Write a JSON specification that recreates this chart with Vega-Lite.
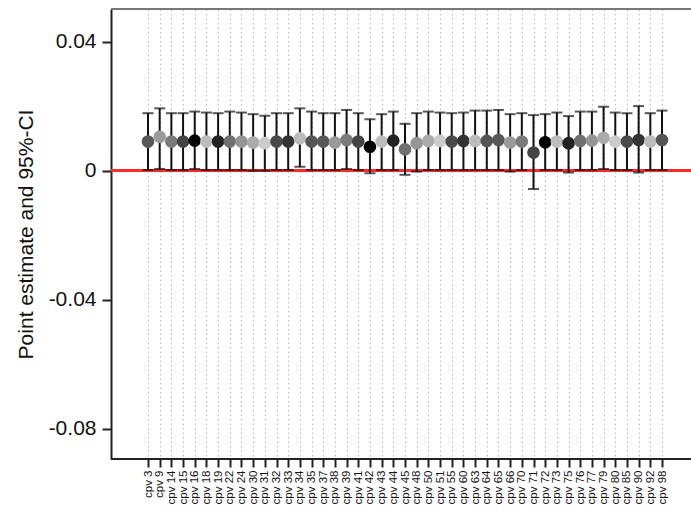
{
  "$schema": "https://vega.github.io/schema/vega-lite/v6.json",
  "autosize": "none",
  "width": 580,
  "height": 450,
  "padding": {"left": 111, "top": 9, "right": 0, "bottom": 57},
  "background": "white",
  "config": {
    "view": {"stroke": null},
    "font": "Liberation Sans",
    "axis": {"labelFont": "Liberation Sans", "titleFont": "Liberation Sans", "labelColor": "#111", "titleColor": "#111", "titleFontWeight": "normal"}
  },
  "data": {
    "values": [
      {"cpv": "cpv 3", "est": 0.0090, "lo": 0.0002, "hi": 0.0178, "grp": "g1"},
      {"cpv": "cpv 9", "est": 0.0105, "lo": 0.0005, "hi": 0.0193, "grp": "g2"},
      {"cpv": "cpv 14", "est": 0.0090, "lo": 0.0002, "hi": 0.0178, "grp": "g3"},
      {"cpv": "cpv 15", "est": 0.0090, "lo": 0.0002, "hi": 0.0178, "grp": "g4"},
      {"cpv": "cpv 16", "est": 0.0093, "lo": 0.0005, "hi": 0.0183, "grp": "g5"},
      {"cpv": "cpv 18", "est": 0.0090, "lo": 0.0002, "hi": 0.0180, "grp": "g6"},
      {"cpv": "cpv 19", "est": 0.0090, "lo": 0.0002, "hi": 0.0178, "grp": "g7"},
      {"cpv": "cpv 22", "est": 0.0090, "lo": 0.0002, "hi": 0.0183, "grp": "g8"},
      {"cpv": "cpv 24", "est": 0.0090, "lo": 0.0002, "hi": 0.0180, "grp": "g9"},
      {"cpv": "cpv 30", "est": 0.0087, "lo": 0.0000, "hi": 0.0175, "grp": "g10"},
      {"cpv": "cpv 31", "est": 0.0085, "lo": 0.0000, "hi": 0.0170, "grp": "g11"},
      {"cpv": "cpv 32", "est": 0.0090, "lo": 0.0002, "hi": 0.0178, "grp": "g12"},
      {"cpv": "cpv 33", "est": 0.0090, "lo": 0.0002, "hi": 0.0178, "grp": "g13"},
      {"cpv": "cpv 34", "est": 0.0100, "lo": 0.0012, "hi": 0.0193, "grp": "g14"},
      {"cpv": "cpv 35", "est": 0.0090, "lo": 0.0002, "hi": 0.0183, "grp": "g15"},
      {"cpv": "cpv 37", "est": 0.0090, "lo": 0.0002, "hi": 0.0178, "grp": "g1"},
      {"cpv": "cpv 38", "est": 0.0087, "lo": 0.0002, "hi": 0.0178, "grp": "g2"},
      {"cpv": "cpv 39", "est": 0.0095, "lo": 0.0005, "hi": 0.0188, "grp": "g3"},
      {"cpv": "cpv 41", "est": 0.0090, "lo": 0.0002, "hi": 0.0178, "grp": "g4"},
      {"cpv": "cpv 42", "est": 0.0074, "lo": -0.0008, "hi": 0.0159, "grp": "g5"},
      {"cpv": "cpv 43", "est": 0.0090, "lo": 0.0002, "hi": 0.0175, "grp": "g6"},
      {"cpv": "cpv 44", "est": 0.0093, "lo": 0.0002, "hi": 0.0183, "grp": "g7"},
      {"cpv": "cpv 45", "est": 0.0066, "lo": -0.0013, "hi": 0.0145, "grp": "g8"},
      {"cpv": "cpv 48", "est": 0.0085, "lo": -0.0003, "hi": 0.0178, "grp": "g9"},
      {"cpv": "cpv 50", "est": 0.0092, "lo": 0.0002, "hi": 0.0183, "grp": "g10"},
      {"cpv": "cpv 51", "est": 0.0092, "lo": 0.0002, "hi": 0.0180, "grp": "g11"},
      {"cpv": "cpv 55", "est": 0.0090, "lo": 0.0002, "hi": 0.0178, "grp": "g12"},
      {"cpv": "cpv 60", "est": 0.0092, "lo": 0.0002, "hi": 0.0180, "grp": "g13"},
      {"cpv": "cpv 63", "est": 0.0092, "lo": 0.0002, "hi": 0.0186, "grp": "g14"},
      {"cpv": "cpv 64", "est": 0.0092, "lo": 0.0002, "hi": 0.0186, "grp": "g15"},
      {"cpv": "cpv 65", "est": 0.0095, "lo": 0.0002, "hi": 0.0188, "grp": "g1"},
      {"cpv": "cpv 66", "est": 0.0087, "lo": -0.0003, "hi": 0.0175, "grp": "g2"},
      {"cpv": "cpv 70", "est": 0.0090, "lo": 0.0002, "hi": 0.0178, "grp": "g3"},
      {"cpv": "cpv 71", "est": 0.0056, "lo": -0.0057, "hi": 0.0172, "grp": "g4"},
      {"cpv": "cpv 72", "est": 0.0088, "lo": 0.0002, "hi": 0.0175, "grp": "g5"},
      {"cpv": "cpv 73", "est": 0.0090, "lo": 0.0002, "hi": 0.0180, "grp": "g6"},
      {"cpv": "cpv 75", "est": 0.0085, "lo": -0.0006, "hi": 0.0169, "grp": "g7"},
      {"cpv": "cpv 76", "est": 0.0092, "lo": 0.0002, "hi": 0.0183, "grp": "g8"},
      {"cpv": "cpv 77", "est": 0.0093, "lo": 0.0002, "hi": 0.0183, "grp": "g9"},
      {"cpv": "cpv 79", "est": 0.0102, "lo": 0.0005, "hi": 0.0198, "grp": "g10"},
      {"cpv": "cpv 80", "est": 0.0090, "lo": 0.0002, "hi": 0.0180, "grp": "g11"},
      {"cpv": "cpv 85", "est": 0.0090, "lo": 0.0002, "hi": 0.0178, "grp": "g12"},
      {"cpv": "cpv 90", "est": 0.0095, "lo": -0.0006, "hi": 0.0200, "grp": "g13"},
      {"cpv": "cpv 92", "est": 0.0090, "lo": 0.0002, "hi": 0.0178, "grp": "g14"},
      {"cpv": "cpv 98", "est": 0.0095, "lo": 0.0002, "hi": 0.0186, "grp": "g15"}
    ]
  },
  "encoding": {
    "x": {
      "field": "cpv",
      "type": "nominal",
      "sort": null,
      "scale": {"type": "point", "range": [37, 551], "padding": 0},
      "axis": {
        "title": null,
        "domain": false,
        "grid": true,
        "gridColor": "#bdbdbd",
        "gridDash": [1.5, 3],
        "gridWidth": 1.2,
        "ticks": true,
        "tickSize": 8,
        "tickWidth": 2,
        "tickColor": "#222",
        "labelAngle": 270,
        "labelFontSize": 11.5,
        "labelPadding": 3,
        "labelOverlap": false
      }
    }
  },
  "layer": [
    {
      "mark": {"type": "rule", "color": "#ff2a2a", "strokeWidth": 2},
      "encoding": {
        "x": null,
        "y": {
          "datum": 0,
          "type": "quantitative",
          "scale": {"domain": [-0.0894, 0.0501], "nice": false, "zero": false},
          "axis": {
            "title": "Point estimate and 95%-CI",
            "titleFontSize": 21,
            "titleBaseline": "alphabetic",
            "titleX": -79,
            "values": [0.04, 0, -0.04, -0.08],
            "labelExpr": "datum.value == 0 ? '0' : (datum.value < 0 ? '-' : '') + format(abs(datum.value), '.2f')",
            "labelFontSize": 21,
            "labelPadding": 6,
            "grid": false,
            "tickSize": 9,
            "tickWidth": 2,
            "tickColor": "#222",
            "domainColor": "#222",
            "domainWidth": 2
          }
        }
      }
    },
    {
      "mark": {"type": "rule", "color": "#777", "strokeWidth": 2},
      "encoding": {"x": null, "y": {"datum": 0.0501, "type": "quantitative"}}
    },
    {
      "mark": {"type": "rule", "color": "#222", "strokeWidth": 2},
      "encoding": {"x": null, "y": {"datum": -0.0894, "type": "quantitative"}}
    },
    {
      "mark": {"type": "rule", "color": "#111", "strokeWidth": 2},
      "encoding": {
        "y": {"field": "lo", "type": "quantitative"},
        "y2": {"field": "hi"}
      }
    },
    {
      "mark": {"type": "tick", "color": "#111", "size": 11, "thickness": 2},
      "encoding": {"y": {"field": "hi", "type": "quantitative"}}
    },
    {
      "mark": {"type": "tick", "color": "#111", "size": 11, "thickness": 2},
      "encoding": {"y": {"field": "lo", "type": "quantitative"}}
    },
    {
      "mark": {"type": "circle", "size": 160, "opacity": 1},
      "encoding": {
        "y": {"field": "est", "type": "quantitative"},
        "color": {
          "field": "grp",
          "type": "nominal",
          "legend": null,
          "scale": {
            "domain": ["g1", "g2", "g3", "g4", "g5", "g6", "g7", "g8", "g9", "g10", "g11", "g12", "g13", "g14", "g15"],
            "range": ["#585858", "#9a9a9a", "#7a7a7a", "#444444", "#000000", "#bdbdbd", "#222222", "#707070", "#959595", "#ababab", "#cccccc", "#4a4a4a", "#333333", "#bbbbbb", "#555555"]
          }
        }
      }
    }
  ]
}
